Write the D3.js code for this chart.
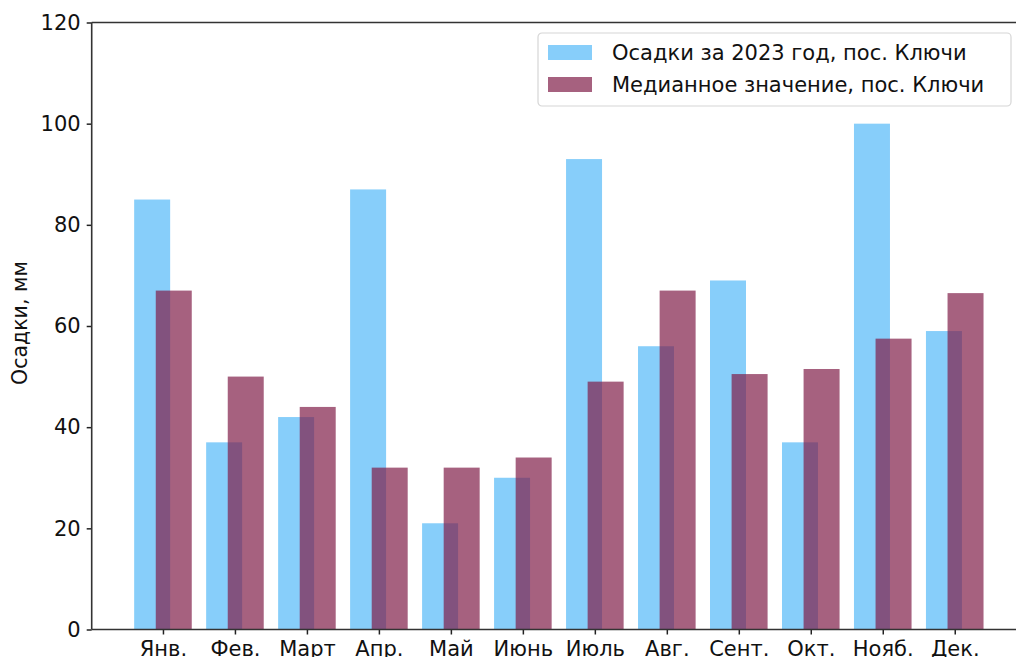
<!DOCTYPE html>
<html>
<head>
<meta charset="utf-8">
<script src="https://cdn.jsdelivr.net/npm/d3@7"></script>
<style>
  html, body { margin: 0; padding: 0; background: #fff; overflow: hidden; }
  svg { display: block; font-family: "DejaVu Sans", sans-serif; }
</style>
</head>
<body>
<svg id="chart" width="1016" height="657"></svg>
<script>
// Monthly precipitation, settlement Klyuchi
const months = ["Янв.", "Фев.", "Март", "Апр.", "Май", "Июнь", "Июль", "Авг.", "Сент.", "Окт.", "Нояб.", "Дек."];
const precip2023 = [85, 37, 42, 87, 21, 30, 93, 56, 69, 37, 100, 59];
const precipMedian = [67, 50, 44, 32, 32, 34, 49, 67, 50.5, 51.5, 57.5, 66.5];
const yTicks = [0, 20, 40, 60, 80, 100, 120];
const seriesNames = ["Осадки за 2023 год, пос. Ключи", "Медианное значение, пос. Ключи"];
const yLabel = "Осадки, мм";

const colorYear = "#87CEFA";
const colorMedian = "rgb(128,30,72)";
const medianOpacity = 0.7;
const fontSize = 21;

const svg = d3.select("#chart");
const plot = { left: 91.7, right: 1026, top: 22.5, bottom: 629.5 };

// index-based x scale with bar width 0.5 and offsets of ±0.15
const x = d3.scaleLinear().domain([-0.99, 11.99]).range([plot.left, plot.right]);
const y = d3.scaleLinear().domain([0, 120]).range([plot.bottom, plot.top]);
const barW = 0.5, off = 0.15;

const g = svg.append("g");

// 2023 bars
g.selectAll("rect.year").data(precip2023).enter().append("rect")
  .attr("class", "year")
  .attr("x", (d, i) => x(i - off - barW / 2))
  .attr("width", x(barW) - x(0))
  .attr("y", d => y(d))
  .attr("height", d => y(0) - y(d))
  .attr("fill", colorYear);

// median bars drawn semi-transparent on top
g.selectAll("rect.median").data(precipMedian).enter().append("rect")
  .attr("class", "median")
  .attr("x", (d, i) => x(i + off - barW / 2))
  .attr("width", x(barW) - x(0))
  .attr("y", d => y(d))
  .attr("height", d => y(0) - y(d))
  .attr("fill", colorMedian)
  .attr("fill-opacity", medianOpacity);

// axes
const yAxis = d3.axisLeft(y).tickValues(yTicks).tickSize(5).tickPadding(6);
const yG = svg.append("g").attr("transform", `translate(${plot.left},0)`).call(yAxis);
yG.select(".domain").remove();
yG.selectAll("text").attr("font-size", fontSize).attr("fill", "#111").attr("font-family", "DejaVu Sans");
yG.selectAll("line").attr("stroke", "#222").attr("stroke-width", 1.5);

const xAxis = d3.axisBottom(x).tickValues(d3.range(months.length)).tickFormat(i => months[i]).tickSize(5).tickPadding(7);
const xG = svg.append("g").attr("transform", `translate(0,${plot.bottom})`).call(xAxis);
xG.select(".domain").remove();
xG.selectAll("text").attr("font-size", fontSize).attr("fill", "#111").attr("font-family", "DejaVu Sans");
xG.selectAll("line").attr("stroke", "#222").attr("stroke-width", 1.5);

// spines
const spine = svg.append("g").attr("stroke", "#333").attr("stroke-width", 1.6).attr("fill", "none");
spine.append("line").attr("x1", plot.left).attr("x2", plot.left).attr("y1", plot.top).attr("y2", plot.bottom);
spine.append("line").attr("x1", plot.left).attr("x2", plot.right).attr("y1", plot.bottom).attr("y2", plot.bottom);
spine.append("line").attr("x1", plot.left).attr("x2", plot.right).attr("y1", plot.top).attr("y2", plot.top);
spine.append("line").attr("x1", plot.right).attr("x2", plot.right).attr("y1", plot.top).attr("y2", plot.bottom);

// y axis title
svg.append("text")
  .attr("transform", `translate(27,${(plot.top + plot.bottom) / 2 - 3}) rotate(-90)`)
  .attr("text-anchor", "middle")
  .attr("font-size", 20.5)
  .attr("fill", "#111")
  .text(yLabel);

// legend
const leg = svg.append("g").attr("transform", "translate(538,33)");
leg.append("rect")
  .attr("width", 473).attr("height", 73)
  .attr("rx", 4)
  .attr("fill", "#fff").attr("fill-opacity", 0.8)
  .attr("stroke", "#d6d6d6").attr("stroke-width", 1.2);
const legColors = [[colorYear, 1], [colorMedian, medianOpacity]];
seriesNames.forEach((name, i) => {
  const row = leg.append("g").attr("transform", `translate(0,${12 + i * 32})`);
  row.append("rect").attr("x", 10).attr("y", 0).attr("width", 44).attr("height", 15)
    .attr("fill", legColors[i][0]).attr("fill-opacity", legColors[i][1]);
  row.append("text").attr("x", 74).attr("y", 15)
    .attr("font-size", fontSize).attr("fill", "#111").text(name);
});
</script>
</body>
</html>
